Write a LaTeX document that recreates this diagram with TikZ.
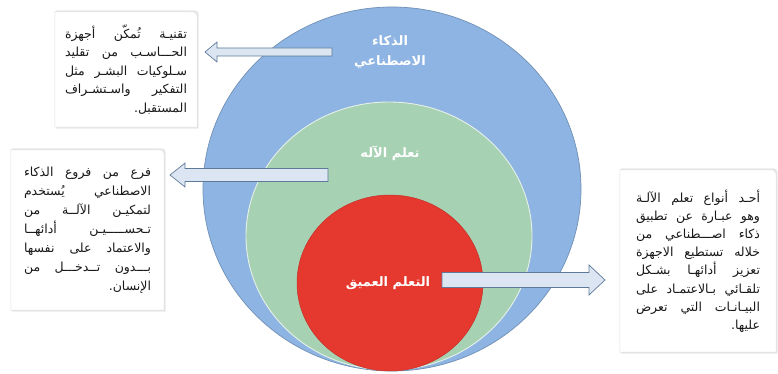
\documentclass[tikz,border=0pt]{standalone}
\usepackage{fontspec}
\usetikzlibrary{calc,backgrounds}
\setmainfont{DejaVu Sans}
\newfontfamily\arabicfont[Script=Arabic]{DejaVu Sans}
\TeXXeTstate=1
\definecolor{aiblue}{HTML}{8DB4E2}
\definecolor{mlgreen}{HTML}{A7D1B3}
\definecolor{dlred}{HTML}{E5382E}
\definecolor{arrowfill}{HTML}{DCE6F2}
\definecolor{arrowline}{HTML}{5F7A99}
\definecolor{boxline}{HTML}{E0E0E0}
\newlength\linew
\newcommand\jl[1]{\hbox to \linew{\spaceskip=0.25em plus 1fil\relax\beginR #1\endR}}
\newcommand\lastl[1]{\hbox to \linew{\hfil\beginR #1\endR}}
\newcommand\blockarrow[5]{%
  \draw[arrowstyle] let \p1=(#1), \p2=(#2), \n1={sign(\x2-\x1)} in
    (\x1,\y1+#3pt) -- (\x2-\n1*#5pt,\y1+#3pt) -- (\x2-\n1*#5pt,\y1+#4pt) -- (\x2,\y2)
    -- (\x2-\n1*#5pt,\y1-#4pt) -- (\x2-\n1*#5pt,\y1-#3pt) -- (\x1,\y1-#3pt) -- cycle;}
\newcommand\boxoutline[1]{%
  \fill[black!9] ([shift={(1.5pt,-1.5pt)}]#1.south west) -- ([shift={(1.5pt,1.5pt)}]#1.north west)
    -- ([shift={(-7.5pt,1.5pt)}]#1.north east) .. controls ([shift={(1.5pt,1.5pt)}]#1.north east) .. ([shift={(1.5pt,-7.5pt)}]#1.north east)
    -- ([shift={(1.5pt,-1.5pt)}]#1.south east) -- cycle;
  \filldraw[fill=white, draw=boxline, line width=0.6pt] (#1.south west) -- (#1.north west)
    -- ([xshift=-9pt]#1.north east) .. controls (#1.north east) .. ([yshift=-9pt]#1.north east)
    -- (#1.south east) -- cycle;}
\begin{document}
\begin{tikzpicture}[x=1pt,y=-1pt,
  arrowstyle/.style={fill=arrowfill, draw=arrowline, line width=0.7pt, line join=miter},
  lbl/.style={text=white, font=\arabicfont\bfseries\fontsize{13}{19.5}\selectfont, align=center, inner sep=0pt},
  infobox/.style={inner sep=0pt, font=\arabicfont\fontsize{12.5}{18.5}\selectfont, text=black!90}]
\useasboundingbox (0,0) rectangle (778,374);

% nested ellipses
\filldraw[fill=aiblue, draw=aiblue!80!black, line width=0.7pt] (392,189) ellipse [x radius=189, y radius=182];
\filldraw[fill=mlgreen, draw=white!70!mlgreen, line width=0.9pt] (389,236) ellipse [x radius=143, y radius=134];
\filldraw[fill=dlred, draw=dlred!85!black, line width=0.5pt] (390,283) ellipse [x radius=93, y radius=88];

% labels
\node[lbl] (ai) at (390,52) {\beginR الذكاء\endR\\\beginR الاصطناعي\endR};
\node[lbl] (ml) at (390,153) {\beginR تعلم الآله\endR};
\node[lbl] (dl) at (388,283) {\beginR التعلم العميق\endR};

% info boxes
\node[infobox, minimum width=142pt, minimum height=115pt] (b1) at (126,69.5)
  {\setlength\linew{122pt}\vbox{\baselineskip=18.5pt
   \jl{تقنيـة تُمكّن أجهزة}
   \jl{الحـــاسـب من تقليد}
   \jl{سـلوكيات البشـر مثل}
   \jl{التفكير واسـتشـراف}
   \lastl{المستقبل.}}};
\node[infobox, minimum width=153pt, minimum height=160pt] (b2) at (87.5,230)
  {\setlength\linew{127pt}\vbox{\baselineskip=19pt
   \jl{فرع من فروع الذكاء}
   \jl{الاصطناعي يُستخدم}
   \jl{لتمكيـن الآلــة من}
   \jl{تـحســـــيـن أدائهــا}
   \jl{والاعتماد على نفسها}
   \jl{بـــدون تــدخـــل من}
   \lastl{الإنسان.}}};
\node[infobox, minimum width=156pt, minimum height=182pt] (b3) at (698,261)
  {\setlength\linew{124pt}\vbox{\baselineskip=18.2pt
   \jl{أحـد أنواع تعلم الآلـة}
   \jl{وهو عبـارة عن تطبيق}
   \jl{ذكاء اصـــطناعي من}
   \jl{خلاله تستطيع الاجهزة}
   \jl{تعزيز أدائهـا بشـكل}
   \jl{تلقـائي بـالاعتمـاد على}
   \jl{البيـانـات التي تعرض}
   \lastl{عليها.}}};
\begin{scope}[on background layer]
  \fill[white] (0,0) rectangle (778,374);
  \boxoutline{b1}
  \boxoutline{b2}
  \boxoutline{b3}
\end{scope}

% arrows
\coordinate (a1tail) at (332,52);  \coordinate (a1tip) at (205,52);
\coordinate (a2tail) at (328,175); \coordinate (a2tip) at (170,175);
\coordinate (a3tail) at (442,280); \coordinate (a3tip) at (605,280);
\blockarrow{a1tail}{a1tip}{4}{10}{12}
\blockarrow{a2tail}{a2tip}{6.5}{12}{15}
\blockarrow{a3tail}{a3tip}{7.5}{15}{16}
\end{tikzpicture}
\end{document}
